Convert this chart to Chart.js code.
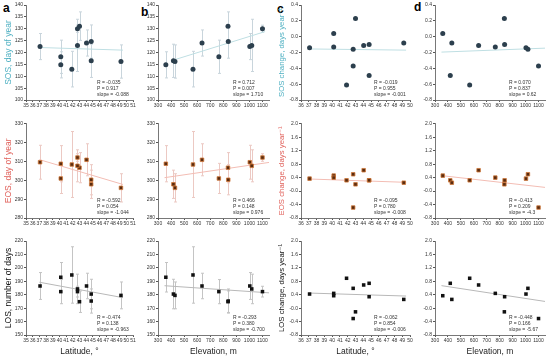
<!DOCTYPE html>
<html>
<head>
<meta charset="utf-8">
<script src="https://cdn.jsdelivr.net/npm/chart.js@4.4.0/dist/chart.umd.min.js"></script>
<style>
  body { margin: 0; background: #fff; width: 550px; height: 360px; position: relative; overflow: hidden; font-family: "Liberation Sans", Arial, sans-serif; }
  canvas { position: absolute; }
  .lbl { position: absolute; font-weight: bold; font-size: 12px; color: #000; line-height: 12px; }
</style>
</head>
<body>
<div class="lbl" style="left:3px;top:2px">a</div>
<div class="lbl" style="left:141px;top:6px">b</div>
<div class="lbl" style="left:277px;top:3px">c</div>
<div class="lbl" style="left:414px;top:1px">d</div>
<script>
// sites (same order in every array)
const latitude  = [40.2, 44.75, 49.2, 41.85, 44.05, 40.2, 43.0, 44.75, 37.1, 42.7, 42.7];
const elevation = [360, 418, 430, 568, 637, 766, 836, 838, 1003, 1018, 1100];

const sos    = [114.8, 116.5, 116.2, 113.0, 124.0, 118.2, 131.1, 124.6, 122.5, 123.0, 130.0];
const sosErr = [5.5, 7, 7, 7.5, 5.5, 7, 6, 7, 5.5, 11, 1.5];
const eos    = [308.8, 297.9, 296.0, 308.4, 310.9, 301.0, 306.7, 300.3, 309.6, 307.7, 312.1];
const eosErr = [9.6, 7.5, 7.5, 17.5, 8.5, 8, 8, 8, 9, 8.5, 2];
const los    = [193.0, 180.5, 179.5, 194.7, 186.5, 182.3, 174.8, 175.3, 186.5, 184.3, 182.3];
const losErr = [11, 11, 10, 21, 9.5, 9, 8, 9, 10, 11, 4];

const sosChange = [0.04, -0.49, -0.08, -0.61, -0.11, -0.13, 0.23, -0.10, -0.14, -0.16, -0.37];
const eosChange = [0.46, 0.32, 0.25, 0.32, 0.62, 0.40, 0.20, 0.32, 0.37, 0.50, -0.49];
const losChange = [0.37, 0.74, 0.26, 0.89, 0.69, 0.44, -0.11, 0.34, 0.42, 0.59, -0.31];

// regression lines (end points)
const latFitX  = [37, 49.5];
const elevFitX = [350, 1150];
const sosLatFit  = [122.1, 121.0];
const sosElevFitX = [400, 1120];
const sosElevFit = [116.5, 128.8];
const eosLatFit  = [311.0, 297.8];
const eosElevFit = [301.4, 309.5];
const losLatFit  = [189.3, 177.8];
const losElevFit = [186.7, 181.4];
const sosChangeLatFit  = [-0.155, -0.17];
const sosChangeElevFit = [-0.195, -0.145];
const eosChangeLatFit  = [0.36, 0.26];
const eosChangeElevFit = [0.46, 0.11];
const losChangeLatFit  = [0.45, 0.36];
const losChangeElevFit = [0.67, 0.20];

// stats labels
const stats = {
  sosLat: ['R = -0.035', 'P = 0.917', 'slope = -0.088'],
  sosElev: ['R = 0.712', 'P = 0.007', 'slope = 1.710'],
  sosChLat: ['R = -0.019', 'P = 0.955', 'slope = -0.001'],
  sosChElev: ['R = 0.070', 'P = 0.837', 'slope = 0.62'],
  eosLat: ['R = -0.592', 'P = 0.054', 'slope = -1.044'],
  eosElev: ['R = 0.466', 'P = 0.148', 'slope = 0.976'],
  eosChLat: ['R = -0.095', 'P = 0.780', 'slope = -0.008'],
  eosChElev: ['R = -0.413', 'P = 0.209', 'slope = -4.3'],
  losLat: ['R = -0.474', 'P = 0.138', 'slope = -0.963'],
  losElev: ['R = -0.293', 'P = 0.380', 'slope = -0.700'],
  losChLat: ['R = -0.062', 'P = 0.854', 'slope = -0.006'],
  losChElev: ['R = -0.448', 'P = 0.166', 'slope = -5.67']
};

// plot rectangles
const cols = [
  { left: 26, right: 133, yW: 26, titlePad: 4 },
  { left: 158, right: 269, yW: 20 },
  { left: 301, right: 410, yW: 26, titlePad: 2 },
  { left: 435, right: 545, yW: 20 }
];
const rows = [
  { top: 5, bottom: 100, xH: 10 },
  { top: 123, bottom: 218, xH: 10 },
  { top: 241, bottom: 335, xH: 23 }
];

const styles = [
  { title: '#4fb0c2', point: '#2c3f4d', border: '#2c3f4d', shape: 'circle', r: 2.5, err: '#c9d5dc', fit: '#bfdfe3' },
  { title: '#e0605a', point: '#5a2c10', border: '#d0783a', shape: 'rect', r: 2.5, err: '#ecc9c3', fit: '#f3bdb4' },
  { title: '#111', point: '#111', border: '#111', shape: 'rect', r: 2.5, err: '#c4c4c4', fit: '#b8b8b8' }
];

const errorBars = {
  id: 'errorBars',
  beforeDatasetsDraw(chart) {
    const ds = chart.data.datasets[1];
    if (!ds.errors) return;
    const xs = chart.scales.x, ys = chart.scales.y, ctx = chart.ctx;
    ctx.save();
    ctx.strokeStyle = ds.errColor;
    ctx.lineWidth = 1;
    ds.data.forEach((p, i) => {
      const px = Math.round(xs.getPixelForValue(p.x)) + 0.5;
      const y1 = ys.getPixelForValue(p.y + ds.errors[i]);
      const y2 = ys.getPixelForValue(p.y - ds.errors[i]);
      ctx.beginPath();
      ctx.moveTo(px, y1); ctx.lineTo(px, y2);
      ctx.moveTo(px - 1.5, y1); ctx.lineTo(px + 1.5, y1);
      ctx.moveTo(px - 1.5, y2); ctx.lineTo(px + 1.5, y2);
      ctx.stroke();
    });
    ctx.restore();
  }
};

function statsPlugin(lines) {
  return {
    id: 'statsText',
    afterDraw(chart) {
      const ctx = chart.ctx, a = chart.chartArea;
      ctx.save();
      ctx.font = '5px "Liberation Sans", Arial, sans-serif';
      ctx.fillStyle = '#333';
      ctx.textBaseline = 'middle';
      lines.forEach((t, i) => ctx.fillText(t, a.right - 36, a.bottom - 17 + i * 6));
      ctx.restore();
    }
  };
}

function panel(r, c, opt) {
  const col = cols[c], row = rows[r], st = styles[r];
  const x0 = col.left - col.yW, y0 = row.top - 4;
  const cv = document.createElement('canvas');
  cv.width = col.right + 5 - x0;
  cv.height = row.bottom + row.xH - y0;
  cv.style.left = x0 + 'px';
  cv.style.top = y0 + 'px';
  document.body.appendChild(cv);

  const pts = opt.xs.map((x, i) => ({ x: x, y: opt.ys[i] }));
  const fit = opt.fitX.map((x, i) => ({ x: x, y: opt.fitY[i] }));
  const fam = '"Liberation Sans", "DejaVu Sans", Arial, sans-serif';
  const tickFont = { size: 5, family: fam };
  const xTitleFont = { size: 8.5, family: fam };
  const yTitleFont = { size: c === 2 ? 7.8 : 8.5, family: fam };

  new Chart(cv, {
    type: 'scatter',
    data: {
      datasets: [
        { type: 'line', data: fit, borderColor: st.fit, borderWidth: 1, pointRadius: 0, order: 1 },
        {
          type: 'scatter', data: pts, order: 0,
          pointStyle: st.shape, pointRadius: st.r,
          backgroundColor: st.point, borderColor: st.border, borderWidth: r === 1 ? 0.8 : 0,
          errors: opt.errs, errColor: st.err
        }
      ]
    },
    options: {
      responsive: false,
      animation: false,
      devicePixelRatio: 1,
      layout: { padding: { top: 4, right: 5, left: 0, bottom: 0 } },
      plugins: { legend: { display: false }, tooltip: { enabled: false } },
      scales: {
        x: {
          type: 'linear', min: opt.xMin, max: opt.xMax,
          afterFit: s => { s.height = row.xH; },
          border: { display: true, color: '#555', width: 0.8 },
          grid: { display: true, drawOnChartArea: false, drawTicks: true, tickLength: 2, color: '#555' },
          ticks: { stepSize: opt.xStep, includeBounds: false, autoSkip: false, maxRotation: 0, font: tickFont, color: '#333', padding: 1, callback: v => String(v) },
          title: opt.xTitle ? { display: true, text: opt.xTitle, font: xTitleFont, color: '#222', padding: { top: 0, bottom: 1 } } : { display: false }
        },
        y: {
          type: 'linear', min: opt.yMin, max: opt.yMax,
          afterFit: s => { s.width = col.yW; },
          border: { display: true, color: '#555', width: 0.8 },
          grid: { display: true, drawOnChartArea: false, drawTicks: true, tickLength: 2, color: '#555' },
          ticks: {
            stepSize: opt.yStep, autoSkip: false, font: tickFont, color: '#333', padding: 1,
            callback: v => opt.yDec ? v.toFixed(opt.yDec) : String(v)
          },
          title: opt.yTitle ? { display: true, text: opt.yTitle, font: yTitleFont, color: st.title, padding: { top: col.titlePad, bottom: 0 } } : { display: false }
        }
      }
    },
    plugins: [errorBars, statsPlugin(opt.stats)]
  });
}

const latAxis = { xs: latitude, xMin: 35, xMax: 51, xStep: 1, fitX: latFitX };
const latAxisC = { xs: latitude, xMin: 36, xMax: 50, xStep: 1, fitX: latFitX };
const elevAxis = { xs: elevation, xMin: 300, xMax: 1150, xStep: 100, fitX: elevFitX };
const sosY = { yMin: 100, yMax: 140, yStep: 5 };
const eosY = { yMin: 280, yMax: 330, yStep: 10 };
const losY = { yMin: 150, yMax: 220, yStep: 10 };
const chY1 = { yMin: -0.8, yMax: 0.4, yStep: 0.2, yDec: 1 };
const chY2 = { yMin: -0.8, yMax: 2.0, yStep: 0.4, yDec: 1 };

// row 1: SOS
panel(0, 0, Object.assign({}, latAxis, sosY, { ys: sos, errs: sosErr, fitY: sosLatFit, stats: stats.sosLat, yTitle: 'SOS, day of year' }));
panel(0, 1, Object.assign({}, elevAxis, sosY, { ys: sos, errs: sosErr, fitX: sosElevFitX, fitY: sosElevFit, stats: stats.sosElev }));
panel(0, 2, Object.assign({}, latAxisC, chY1, { ys: sosChange, fitY: sosChangeLatFit, stats: stats.sosChLat, yTitle: 'SOS change, days year\u207B\u00B9' }));
panel(0, 3, Object.assign({}, elevAxis, chY1, { ys: sosChange, fitY: sosChangeElevFit, stats: stats.sosChElev }));
// row 2: EOS
panel(1, 0, Object.assign({}, latAxis, eosY, { ys: eos, errs: eosErr, fitY: eosLatFit, stats: stats.eosLat, yTitle: 'EOS, day of year' }));
panel(1, 1, Object.assign({}, elevAxis, eosY, { ys: eos, errs: eosErr, fitY: eosElevFit, stats: stats.eosElev }));
panel(1, 2, Object.assign({}, latAxisC, chY2, { ys: eosChange, fitY: eosChangeLatFit, stats: stats.eosChLat, yTitle: 'EOS change, days year\u207B\u00B9' }));
panel(1, 3, Object.assign({}, elevAxis, chY2, { ys: eosChange, fitY: eosChangeElevFit, stats: stats.eosChElev }));
// row 3: LOS
panel(2, 0, Object.assign({}, latAxis, losY, { ys: los, errs: losErr, fitY: losLatFit, stats: stats.losLat, yTitle: 'LOS, number of days', xTitle: 'Latitude, \u00B0' }));
panel(2, 1, Object.assign({}, elevAxis, losY, { ys: los, errs: losErr, fitY: losElevFit, stats: stats.losElev, xTitle: 'Elevation, m' }));
panel(2, 2, Object.assign({}, latAxisC, chY2, { ys: losChange, fitY: losChangeLatFit, stats: stats.losChLat, yTitle: 'LOS change, days year\u207B\u00B9', xTitle: 'Latitude, \u00B0' }));
panel(2, 3, Object.assign({}, elevAxis, chY2, { ys: losChange, fitY: losChangeElevFit, stats: stats.losChElev, xTitle: 'Elevation, m' }));
</script>
</body>
</html>
